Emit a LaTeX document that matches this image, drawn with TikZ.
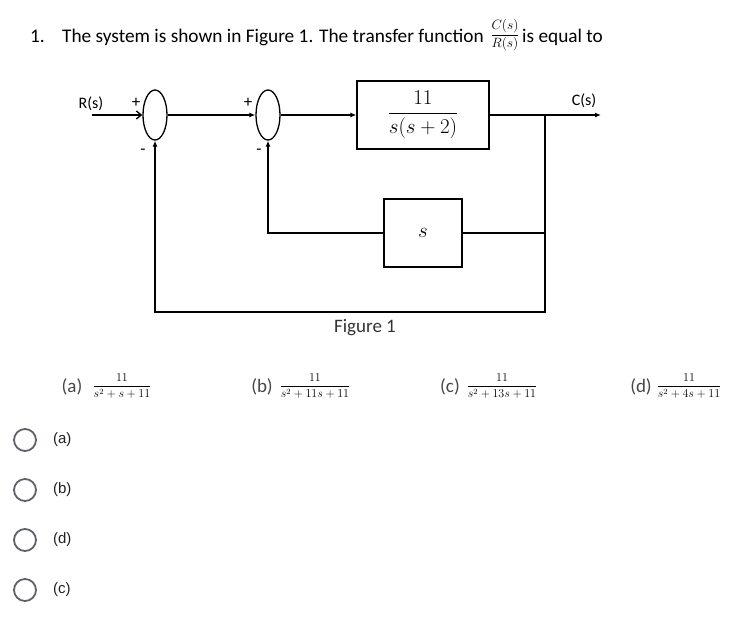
\RequirePackage{fix-cm}
\documentclass[tikz,border=0pt]{standalone}
\usepackage{fontspec}
\setmainfont{Carlito}
\newfontfamily\formfont{Liberation Sans}
\usepackage{amsmath}
\usetikzlibrary{arrows.meta,shapes.geometric,positioning}

\begin{document}
\begin{tikzpicture}[
  x=1pt,y=-1pt,
  >=Latex,
  wire/.style={line width=1.3pt,draw=black},
  signal/.style={wire,-{Latex[length=6pt,width=5pt]}},
  feed/.style={wire,-{Straight Barb[length=5pt,width=8pt,line width=1.3pt]}},
  sumnode/.style={ellipse,draw,line width=1.3pt,minimum width=24pt,
    minimum height=50pt,inner sep=0pt},
  block/.style={draw,line width=1.3pt,inner sep=0pt,
    font=\fontsize{21}{24}\selectfont},
  sign/.style={font=\fontsize{17}{17}\selectfont,inner sep=0pt},
  question/.style={font=\fontsize{19.3}{22}\selectfont,anchor=base west,
    inner sep=0pt},
  caption/.style={font=\fontsize{19}{22}\selectfont,text=black!80},
  choice/.style={font=\fontsize{19}{22}\selectfont,text=black!72,inner sep=0pt},
  formula/.style={font=\fontsize{12}{14}\selectfont,inner sep=0pt},
  radio/.style={circle,draw=radiogray,line width=1.8pt,minimum size=22pt,
    inner sep=0pt},
  answer/.style={font=\formfont\fontsize{15}{18}\selectfont,text=answergray,
    inner sep=0pt}
]

\definecolor{radiogray}{RGB}{95,99,104}
\definecolor{answergray}{RGB}{32,33,36}

\useasboundingbox (0,0) rectangle (746,630);
\fill[white] (0,0) rectangle (746,630);

% Question line
\node[question] (qnum) at (30,42) {1.};
\node[question] (qtext) at (62,42)
  {The system is shown in Figure 1. The transfer function};
\node[font=\fontsize{13.5}{15}\selectfont,inner sep=0pt] (ratio) at (505,35)
  {$\dfrac{C(s)}{R(s)}$};
\node[question] (qtail) at (522,42) {is equal to};

% Block diagram
\node[sumnode] (sum1) at (155,115) {};
\node[sumnode] (sum2) at (268,115) {};
\node[block,minimum width=132pt,minimum height=68pt] (plant) at (423,115)
  {$\dfrac{11}{s(s+2)}$};
\node[block,minimum width=78pt,minimum height=68pt] (deriv) at (423,233) {$s$};

\coordinate (in) at (92,115);
\coordinate (out) at (601,115);
\coordinate (tap) at (545,115);
\coordinate (outer) at (155,312);

\node[font=\fontsize{16}{18}\selectfont,inner sep=0pt] (rlabel) at (91,104) {R(s)};
\node[font=\fontsize{16}{18}\selectfont,inner sep=0pt] (clabel) at (584,101) {C(s)};

\node[sign] (plus1) at (136,103) {+};
\node[sign] (minus1) at (143,152) {-};
\node[sign] (plus2) at (248,103) {+};
\node[sign] (minus2) at (259,152) {-};

\draw[feed] (in) -- (sum1);
\draw[signal] (sum1) -- (sum2);
\draw[signal] (sum2) -- (plant);
\draw[signal] (plant) -- (out);
\draw[wire] (tap) |- (deriv.east);
\draw[signal] (deriv.west) -| (sum2.south);
\draw[signal] (tap) |- (outer) -- (sum1.south);

\node[caption] (figcap) at (365,328) {Figure 1};

% Printed choices
\foreach \lbl/\lx/\fx/\den in {a/72/122/{s^2+s+11},b/262/315/{s^2+11s+11},
    c/450/502/{s^2+13s+11},d/641/689/{s^2+4s+11}} {
  \node[choice] (opt\lbl) at (\lx,387) {(\lbl)};
  \node[formula] (frac\lbl) at (\fx,386) {$\dfrac{11}{\den}$};
}

% Answer buttons
\foreach \lbl [count=\i] in {a,b,d,c} {
  \node[radio] (radio\i) at (25,390+50*\i) {};
  \node[answer,anchor=west,right=16pt of radio\i] (ans\i) {(\lbl)};
}

\end{tikzpicture}
\end{document}
